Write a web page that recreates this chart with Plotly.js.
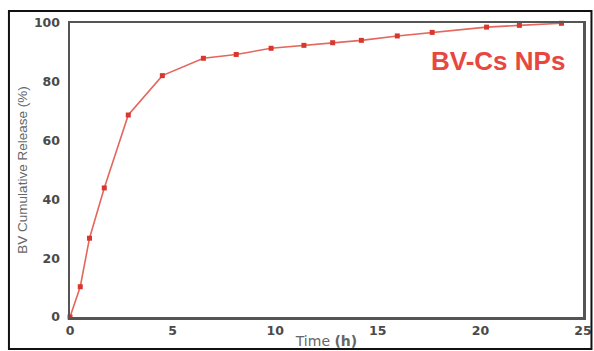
<!DOCTYPE html>
<html><head><meta charset="utf-8">
<script src="https://cdn.plot.ly/plotly-3.0.1.min.js"></script>
<style>html,body{margin:0;padding:0;background:#fff;}</style>
</head><body>
<div id="chart" style="width:594px;height:351px;"></div>
<script>
const timeH = [0, 0.5, 0.95, 1.67, 2.84, 4.5, 6.5, 8.1, 9.8, 11.4, 12.8, 14.2, 15.95, 17.65, 20.3, 21.9, 23.95];
const release = [0, 10.3, 26.8, 43.9, 68.7, 82.1, 88.0, 89.3, 91.4, 92.4, 93.3, 94.1, 95.6, 96.8, 98.6, 99.2, 99.9];
const seriesName = 'BV-Cs NPs';
const xTicks = [0, 5, 10, 15, 20, 25];
const yTicks = [0, 20, 40, 60, 80, 100];

const trace = {
  x: timeH, y: release, type: 'scatter', mode: 'lines+markers', name: seriesName,
  line: {color: '#e3675c', width: 1.6},
  marker: {symbol: 'square', size: 5, color: '#d8372d'},
  cliponaxis: false
};
const tickFont = {family: 'DejaVu Sans, Verdana, sans-serif', size: 12.5, color: '#4a4a4a', weight: 'bold'};
const layout = {
  width: 594, height: 351,
  margin: {l: 70, r: 11, t: 23, b: 34},
  paper_bgcolor: '#fff', plot_bgcolor: '#fff',
  showlegend: false,
  xaxis: {
    range: [0, 25], tickvals: xTicks, ticktext: xTicks.map(String),
    showgrid: false, zeroline: false, ticks: '', showline: true, mirror: true,
    linecolor: '#555', linewidth: 2.5, tickfont: tickFont, ticklabelstandoff: 0,
    title: {text: 'Time <b>(h)</b>', font: {family: 'DejaVu Sans, Verdana, sans-serif', size: 14, color: '#666'}, standoff: 0}
  },
  yaxis: {
    range: [0, 100], tickvals: yTicks, ticktext: yTicks.map(String),
    showgrid: false, zeroline: false, ticks: '', showline: true, mirror: true,
    linecolor: '#555', linewidth: 2.5, tickfont: tickFont, ticklabelstandoff: 5,
    title: {text: 'BV Cumulative Release (%)', font: {family: 'Liberation Sans, Arial, sans-serif', size: 13.5, color: '#666'}, standoff: 3}
  },
  annotations: [{
    xref: 'x', yref: 'y', x: 20.85, y: 87.2, text: '<b>' + seriesName + '</b>', showarrow: false,
    font: {family: 'Liberation Sans, Arial, sans-serif', size: 26, color: '#e8473f'}
  }],
  shapes: [{
    type: 'rect', xref: 'paper', yref: 'paper',
    x0: -0.119, x1: 1.0165, y0: -0.1088, y1: 1.0408,
    line: {color: '#111', width: 2}
  }]
};
Plotly.newPlot('chart', [trace], layout, {displayModeBar: false, staticPlot: true});
</script>
</body></html>
